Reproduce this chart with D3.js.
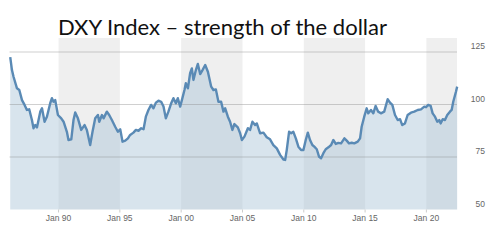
<!DOCTYPE html>
<html lang="en">
  <head>
    <meta charset="UTF-8" />
    <title>DXY Index</title>
    <style>
      body { margin: 0; background: #fff; }
      text { font-family: "Liberation Sans", Arial, sans-serif; }
    </style>
  </head>
  <body>
    <svg id="chart" width="501" height="240"></svg>

    <script src="https://d3js.org/d3.v7.min.js"></script>
    <script>
      // decimal years and index values
      const years = [
        1986.06, 1986.2, 1986.33, 1986.61, 1986.8, 1987.02, 1987.23, 1987.42, 1987.61, 1987.83,
        1987.96, 1988.1, 1988.24, 1988.51, 1988.65, 1988.86, 1989.05, 1989.32, 1989.46, 1989.59,
        1989.73, 1989.95, 1990.22, 1990.41, 1990.68, 1990.81, 1991.04, 1991.22, 1991.36, 1991.58,
        1991.85, 1992.12, 1992.31, 1992.58, 1992.77, 1992.99, 1993.21, 1993.32, 1993.54, 1993.67,
        1993.94, 1994.13, 1994.35, 1994.62, 1994.84, 1995.03, 1995.22, 1995.44, 1995.66, 1995.84,
        1996.11, 1996.31, 1996.52, 1996.74, 1996.93, 1997.12, 1997.33, 1997.55, 1997.74, 1997.94,
        1998.15, 1998.37, 1998.56, 1998.75, 1998.96, 1999.19, 1999.37, 1999.57, 1999.73, 1999.92,
        2000.06, 2000.27, 2000.38, 2000.55, 2000.73, 2000.87, 2001.0, 2001.2, 2001.36, 2001.55,
        2001.74, 2001.96, 2002.18, 2002.45, 2002.63, 2002.83, 2003.04, 2003.26, 2003.45, 2003.59,
        2003.81, 2003.99, 2004.18, 2004.34, 2004.62, 2004.81, 2004.95, 2005.16, 2005.44, 2005.62,
        2005.81, 2006.03, 2006.17, 2006.44, 2006.71, 2006.98, 2007.25, 2007.52, 2007.8, 2008.07,
        2008.34, 2008.48, 2008.61, 2008.8, 2008.97, 2009.15, 2009.35, 2009.56, 2009.78, 2009.97,
        2010.16, 2010.33, 2010.51, 2010.7, 2010.86, 2011.06, 2011.25, 2011.41, 2011.6, 2011.79,
        2012.01, 2012.23, 2012.41, 2012.61, 2012.82, 2013.04, 2013.31, 2013.5, 2013.69, 2013.91,
        2014.12, 2014.4, 2014.59, 2014.72, 2014.93, 2015.13, 2015.26, 2015.48, 2015.67, 2015.86,
        2016.07, 2016.29, 2016.56, 2016.84, 2017.03, 2017.22, 2017.44, 2017.66, 2017.85, 2018.03,
        2018.25, 2018.47, 2018.74, 2019.01, 2019.29, 2019.56, 2019.83, 2019.97, 2020.15, 2020.35,
        2020.51, 2020.7, 2020.89, 2021.05, 2021.16, 2021.33, 2021.51, 2021.7, 2021.92, 2022.06,
        2022.19, 2022.41, 2022.51
      ];
      const dxy = [
        122.6, 116.4, 113.2, 107.7, 106.9, 102.1, 99.8, 97.4, 97.7, 92.6,
        88.7, 90.2, 89.1, 96.6, 98.2, 91.8, 94.2, 100.6, 103.0, 101.3,
        102.1, 95.0, 93.4, 91.8, 87.0, 83.1, 83.4, 92.6, 96.2, 93.4,
        87.9, 90.2, 87.9, 80.7, 87.0, 93.4, 95.0, 91.8, 95.0, 93.4,
        96.6, 95.0, 92.6, 89.4, 87.0, 88.2, 82.3, 82.8, 83.9, 85.5,
        86.6, 87.9, 87.5, 88.7, 88.2, 94.2, 97.4, 99.8, 98.2, 100.9,
        101.8, 101.3, 99.0, 93.4, 96.6, 100.6, 103.0, 100.6, 103.0, 99.0,
        102.1, 106.9, 110.1, 107.7, 114.9, 117.2, 111.7, 116.4, 119.3, 114.5,
        116.4, 118.8, 115.6, 108.5, 106.9, 107.2, 101.3, 101.3, 96.6, 98.2,
        94.2, 91.8, 87.9, 90.7, 89.1, 86.3, 83.1, 84.7, 88.7, 87.9,
        91.8, 90.2, 91.0, 86.3, 86.6, 84.4, 83.4, 80.7, 79.1, 76.0,
        73.8, 73.6, 78.3, 87.0, 86.3, 87.0, 83.9, 79.9, 78.3, 78.3,
        83.1, 86.6, 83.1, 80.7, 79.9, 78.7, 75.1, 74.4, 76.8, 78.7,
        79.6, 80.7, 83.1, 81.2, 81.7, 81.5, 83.9, 82.8, 81.5, 81.8,
        81.5, 82.3, 83.9, 89.4, 94.2, 98.2, 95.8, 97.4, 95.8, 99.3,
        96.6, 95.8, 96.6, 102.5, 100.9, 99.8, 95.0, 92.6, 93.0, 90.2,
        91.0, 95.0, 96.1, 96.6, 97.4, 97.7, 99.0, 98.7, 99.8, 99.3,
        95.8, 94.2, 91.8, 92.6, 91.0, 93.0, 92.6, 95.0, 96.6, 97.4,
        101.3, 106.1, 108.5
      ];
      const tickYears = [1990, 1995, 2000, 2005, 2010, 2015, 2020];
      const tickLabels = ["Jan 90", "Jan 95", "Jan 00", "Jan 05", "Jan 10", "Jan 15", "Jan 20"];
      const yTicks = [50, 75, 100, 125];
      const bandStarts = [1990, 2000, 2010, 2020];

      function toDate(yr) {
        const y0 = Math.floor(yr);
        const a = new Date(y0, 0, 1);
        const b = new Date(y0 + 1, 0, 1);
        return new Date(+a + (yr - y0) * (b - a));
      }

      const data = years.map((yr, i) => ({ date: toDate(yr), value: dxy[i] }));

      const left = 9.5, right = 457, plotTop = 38;
      const x = d3.scaleTime()
        .domain([new Date(1986, 0, 1), new Date(2022, 6, 1)])
        .range([left, right]);
      const y = d3.scaleLinear().domain([50, 125]).range([209.5, 52]);

      const svg = d3.select("#chart");

      // grey bands every other five years
      svg.selectAll("rect.band")
        .data(bandStarts)
        .enter()
        .append("rect")
        .attr("class", "band")
        .attr("x", d => x(new Date(d, 0, 1)))
        .attr("y", plotTop)
        .attr("width", d => Math.min(x(new Date(d + 5, 0, 1)), right) - x(new Date(d, 0, 1)))
        .attr("height", y(50) - plotTop)
        .attr("fill", "#efefef");

      const area = d3.area()
        .x(d => x(d.date))
        .y0(y(50))
        .y1(d => y(d.value));

      svg.append("path")
        .datum(data)
        .attr("d", area)
        .attr("fill", "#a9c3d6")
        .attr("fill-opacity", 0.45);

      // gridlines
      svg.selectAll("line.grid")
        .data(yTicks.filter(v => v > 50))
        .enter()
        .append("line")
        .attr("x1", left)
        .attr("x2", right)
        .attr("y1", d => y(d))
        .attr("y2", d => y(d))
        .attr("stroke", "#8a8a8a")
        .attr("stroke-opacity", 0.4);

      const line = d3.line()
        .x(d => x(d.date))
        .y(d => y(d.value));

      svg.append("path")
        .datum(data)
        .attr("d", line)
        .attr("fill", "none")
        .attr("stroke", "#5a8ab5")
        .attr("stroke-width", 2.4)
        .attr("stroke-linejoin", "round");

      // x ticks and labels
      svg.selectAll("line.tick")
        .data(tickYears)
        .enter()
        .append("line")
        .attr("x1", d => x(new Date(d, 0, 1)))
        .attr("x2", d => x(new Date(d, 0, 1)))
        .attr("y1", y(50))
        .attr("y2", y(50) + 3)
        .attr("stroke", "#ccc");

      svg.selectAll("text.xl")
        .data(tickYears)
        .enter()
        .append("text")
        .attr("x", d => x(new Date(d, 0, 1)))
        .attr("y", 220.5)
        .attr("text-anchor", "middle")
        .attr("font-size", "8.5px")
        .attr("fill", "#666")
        .text((d, i) => tickLabels[i]);

      // y labels on the right
      svg.selectAll("text.yl")
        .data(yTicks)
        .enter()
        .append("text")
        .attr("x", 485)
        .attr("y", d => y(d) - 3)
        .attr("text-anchor", "end")
        .attr("font-size", "8.5px")
        .attr("fill", "#666")
        .text(d => d);

      svg.append("text")
        .attr("x", 58)
        .attr("y", 34.5)
        .style("font-family", "Lato, 'Open Sans', sans-serif")
        .attr("font-size", "22px")
        .attr("textLength", 329)
        .attr("lengthAdjust", "spacingAndGlyphs")
        .attr("fill", "#111")
        .text("DXY Index – strength of the dollar");
    </script>
  </body>
</html>
